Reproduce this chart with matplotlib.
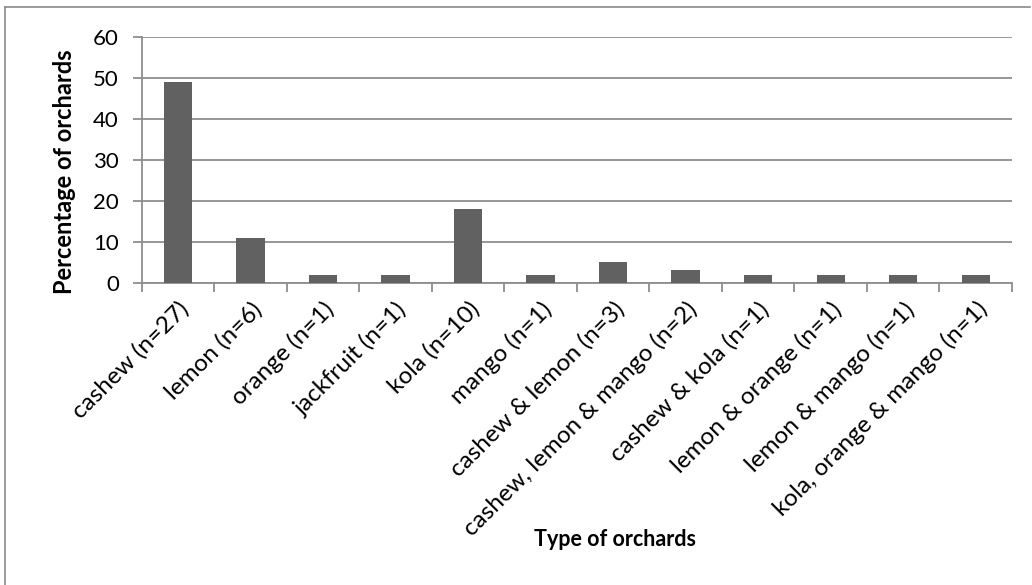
import matplotlib.pyplot as plt
import numpy as np
from matplotlib.lines import Line2D

plt.rcParams['font.family'] = ['Lato', 'DejaVu Sans']

orchards = ["cashew (n=27)", "lemon (n=6)", "orange (n=1)", "jackfruit (n=1)",
            "kola (n=10)", "mango (n=1)", "cashew & lemon (n=3)",
            "cashew, lemon & mango (n=2)", "cashew & kola (n=1)",
            "lemon & orange (n=1)", "lemon & mango (n=1)",
            "kola, orange & mango (n=1)"]
percent = [49, 11, 2, 2, 18, 2, 5, 3, 2, 2, 2, 2]

fig = plt.figure(figsize=(10.32, 5.85), dpi=100)
ax = fig.add_axes([0.1373, 0.5167, 0.8433, 0.4206])

x = np.arange(len(orchards))
ax.bar(x, percent, width=0.39, color="#616161", zorder=3)

ax.set_xlim(-0.5, len(orchards) - 0.5)
ax.set_ylim(0, 60)
ax.set_yticks(range(0, 61, 10))
ax.yaxis.grid(True, color="#8e8e8e", linewidth=1.3, zorder=0)

# ticks sit between categories, labels under the bars
ax.set_xticks(np.arange(-0.5, len(orchards)), minor=False)
ax.set_xticklabels([])
ax.set_xticks(x, minor=True)
ax.set_xticklabels(orchards, minor=True, rotation=45, ha="right",
                   rotation_mode="anchor", fontsize=17.5)
ax.tick_params(axis="x", which="minor", length=0, pad=11)
ax.tick_params(axis="x", which="major", length=6.5, width=1.3, color="#8e8e8e")
ax.tick_params(axis="y", length=6.5, width=1.3, color="#8e8e8e", labelsize=16, pad=10)

for s in ["top", "right"]:
    ax.spines[s].set_visible(False)
for s in ["left", "bottom"]:
    ax.spines[s].set_color("#8e8e8e")
    ax.spines[s].set_linewidth(1.3)

fig.text(65 / 1032, 1 - 172 / 585, "Percentage of orchards", fontsize=17,
         fontweight="bold", rotation=90, ha="center", va="center")
fig.text(0.596, 0.077, "Type of orchards", fontsize=15.5, fontweight="bold",
         ha="center", va="center")

# chart frame
fig.add_artist(Line2D([4.5 / 1032, 4.5 / 1032], [0, 1 - 7 / 585],
                      transform=fig.transFigure, color="#8a8a8a", linewidth=1.2))
fig.add_artist(Line2D([4.5 / 1032, 1030 / 1032], [1 - 7 / 585, 1 - 7 / 585],
                      transform=fig.transFigure, color="#8a8a8a", linewidth=1.2))

fig.savefig("out.png", dpi=100)
